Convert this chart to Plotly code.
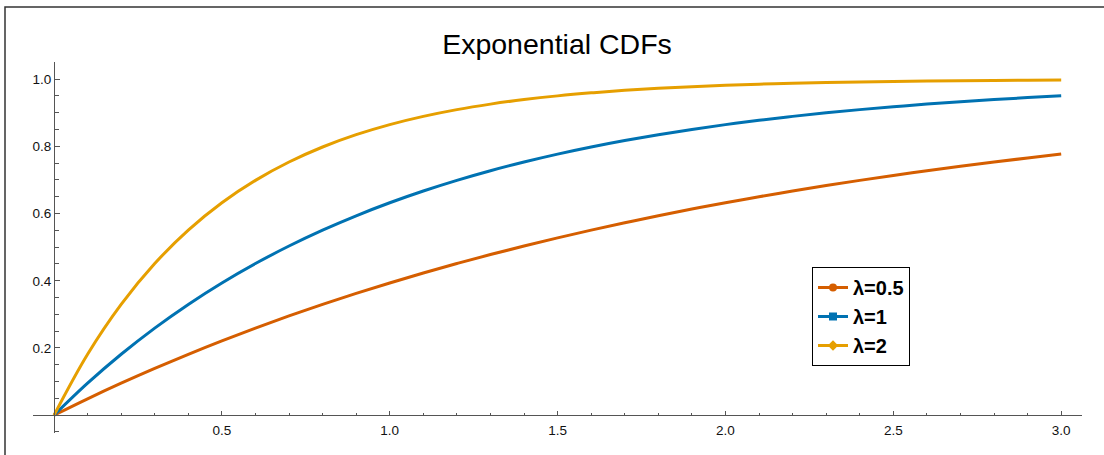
import plotly.graph_objects as go

# ---- data ----
x_vals = [0.0, 0.1, 0.2, 0.3, 0.4, 0.5, 0.6, 0.7, 0.8, 0.9, 1.0,
          1.1, 1.2, 1.3, 1.4, 1.5, 1.6, 1.7, 1.8, 1.9, 2.0,
          2.1, 2.2, 2.3, 2.4, 2.5, 2.6, 2.7, 2.8, 2.9, 3.0]
cdf_half = [0.0, 0.0488, 0.0952, 0.1393, 0.1813, 0.2212, 0.2592, 0.2953, 0.3297, 0.3624, 0.3935,
            0.4231, 0.4512, 0.4780, 0.5034, 0.5276, 0.5507, 0.5726, 0.5934, 0.6133, 0.6321,
            0.6501, 0.6671, 0.6834, 0.6988, 0.7135, 0.7275, 0.7408, 0.7534, 0.7654, 0.7769]
cdf_one = [0.0, 0.0952, 0.1813, 0.2592, 0.3297, 0.3935, 0.4512, 0.5034, 0.5507, 0.5934, 0.6321,
           0.6671, 0.6988, 0.7275, 0.7534, 0.7769, 0.7981, 0.8173, 0.8347, 0.8504, 0.8647,
           0.8775, 0.8892, 0.8997, 0.9093, 0.9179, 0.9257, 0.9328, 0.9392, 0.9450, 0.9502]
cdf_two = [0.0, 0.1813, 0.3297, 0.4512, 0.5507, 0.6321, 0.6988, 0.7534, 0.7981, 0.8347, 0.8647,
           0.8892, 0.9093, 0.9257, 0.9392, 0.9502, 0.9592, 0.9666, 0.9727, 0.9776, 0.9817,
           0.9850, 0.9877, 0.9899, 0.9918, 0.9933, 0.9945, 0.9955, 0.9963, 0.9970, 0.9975]
series_names = ["λ=0.5", "λ=1", "λ=2"]
x_tick_vals = [0.5, 1.0, 1.5, 2.0, 2.5, 3.0]
x_tick_text = ["0.5", "1.0", "1.5", "2.0", "2.5", "3.0"]
y_tick_vals = [0.2, 0.4, 0.6, 0.8, 1.0]
y_tick_text = ["0.2", "0.4", "0.6", "0.8", "1.0"]
x_minor = [round(0.1 * i, 1) for i in range(1, 31)]
y_minor = [round(-0.05 + 0.05 * i, 2) for i in range(0, 23)]

colors = ["#D55E00", "#0072B2", "#E69F00"]
symbols = ["circle", "square", "diamond"]
series = [cdf_half, cdf_one, cdf_two]

W, H = 1104, 455
L, R, T, B = 33, 22, 62, 22
xr = [-0.0626, 3.062]
yr = [-0.053, 1.051]

fig = go.Figure()
for name, ys, c in zip(series_names, series, colors):
    fig.add_trace(go.Scatter(x=x_vals, y=ys, mode="lines", name=name,
                             line=dict(color=c, width=3, shape="spline"),
                             showlegend=False, hoverinfo="skip"))
for name, c, s in zip(series_names, colors, symbols):
    fig.add_trace(go.Scatter(x=[None], y=[None], mode="lines+markers",
                             name="<b>" + name + "</b>",
                             line=dict(color=c, width=3),
                             marker=dict(color=c, symbol=s, size=8)))

pw = W - L - R
ph = H - T - B
def px_x(p):
    return (p - L) / pw
def px_y(p):
    return (H - B - p) / ph

xpos = (0 - yr[0]) / (yr[1] - yr[0])
ypos = (0 - xr[0]) / (xr[1] - xr[0])

axis_font = dict(family="Liberation Sans, Arial, sans-serif", size=13.5, color="#111")
fig.update_layout(
    width=W, height=H,
    margin=dict(l=L, r=R, t=T, b=B, pad=0),
    paper_bgcolor="white", plot_bgcolor="white",
    title=dict(text="Exponential CDFs", x=557 / W, y=1 - 44 / H,
               xanchor="center", yanchor="middle",
               font=dict(family="Liberation Sans, Arial, sans-serif", size=28.5, color="black")),
    xaxis=dict(range=xr, anchor="free", position=xpos, showgrid=False, zeroline=False,
               showline=True, linecolor="#555", linewidth=1,
               tickmode="array", tickvals=x_tick_vals, ticktext=x_tick_text,
               ticks="inside", ticklen=4, tickwidth=1, tickcolor="#555",
               minor=dict(tickmode="array", tickvals=x_minor, ticks="inside",
                          ticklen=2.5, tickwidth=1, tickcolor="#555"),
               tickfont=axis_font, ticklabelstandoff=3),
    yaxis=dict(range=yr, anchor="free", position=ypos, showgrid=False, zeroline=False,
               showline=True, linecolor="#555", linewidth=1,
               tickmode="array", tickvals=y_tick_vals, ticktext=y_tick_text,
               ticks="inside", ticklen=5, tickwidth=1, tickcolor="#555",
               minor=dict(tickmode="array", tickvals=y_minor, ticks="inside",
                          ticklen=3.5, tickwidth=1, tickcolor="#555"),
               tickfont=axis_font),
    legend=dict(x=px_x(812), y=px_y(267), xanchor="left", yanchor="top",
                bgcolor="white", bordercolor="black", borderwidth=1,
                font=dict(family="Liberation Sans, Arial, sans-serif", size=20, color="black"),
                tracegroupgap=0, itemwidth=30),
    shapes=[dict(type="rect", xref="paper", yref="paper",
                 x0=px_x(5), x1=px_x(1120), y0=px_y(470), y1=px_y(7),
                 line=dict(color="#333", width=1.5), fillcolor="rgba(0,0,0,0)", layer="below")],
    showlegend=True,
)

fig.write_html("out.html", config={"displayModeBar": False},
               post_script="document.body.style.margin='0';document.body.style.overflow='hidden';")
